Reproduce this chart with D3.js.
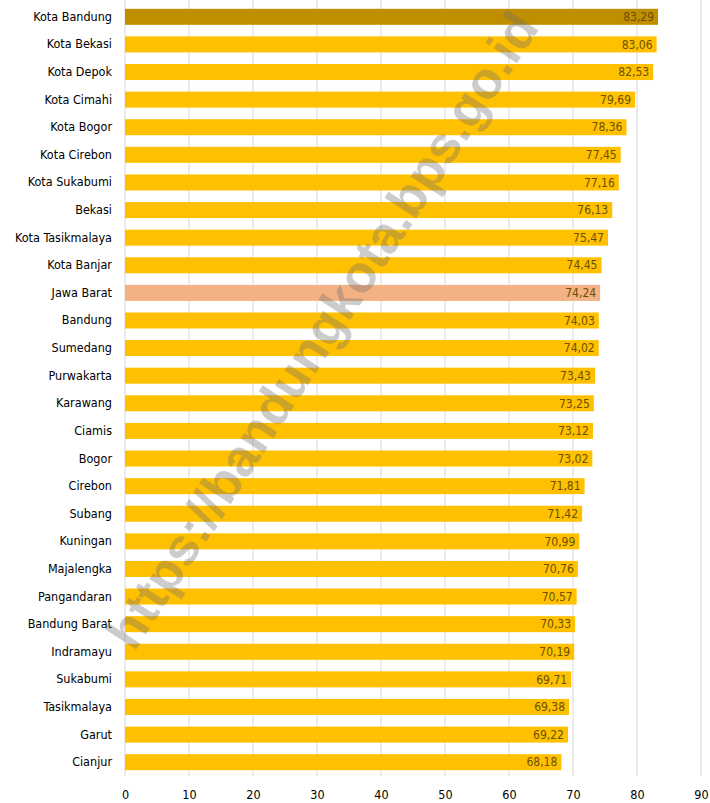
<!DOCTYPE html>
<html>
<head>
<meta charset="utf-8">
<script src="https://cdn.jsdelivr.net/npm/d3@7"></script>
<style>
    body { margin: 0; background: #fff; }
    svg text { font-family: 'DejaVu Sans Condensed', 'Liberation Sans Narrow', sans-serif; }
</style>
</head>
<body>
<script>
// Data
const regions = ['Kota Bandung', 'Kota Bekasi', 'Kota Depok', 'Kota Cimahi', 'Kota Bogor', 'Kota Cirebon',
    'Kota Sukabumi', 'Bekasi', 'Kota Tasikmalaya', 'Kota Banjar', 'Jawa Barat', 'Bandung', 'Sumedang',
    'Purwakarta', 'Karawang', 'Ciamis', 'Bogor', 'Cirebon', 'Subang', 'Kuningan', 'Majalengka',
    'Pangandaran', 'Bandung Barat', 'Indramayu', 'Sukabumi', 'Tasikmalaya', 'Garut', 'Cianjur'];
const values = [83.29, 83.06, 82.53, 79.69, 78.36, 77.45, 77.16, 76.13, 75.47, 74.45, 74.24, 74.03, 74.02,
    73.43, 73.25, 73.12, 73.02, 71.81, 71.42, 70.99, 70.76, 70.57, 70.33, 70.19, 69.71, 69.38, 69.22, 68.18];
const xTicks = [0, 10, 20, 30, 40, 50, 60, 70, 80, 90];

const width = 710, height = 803;

let svg = d3.select('body').append('svg').attr('width', width).attr('height', height);

// Scales
let x = d3.scaleLinear().domain([0, 90]).range([125, 701]);
let y = d3.scaleBand().domain(regions).range([3, 776]).paddingInner(0.42).paddingOuter(0.21);

// Gridlines
svg.append('g')
    .selectAll('line')
    .data(xTicks)
    .enter()
    .append('line')
    .attr('x1', d => x(d))
    .attr('x2', d => x(d))
    .attr('y1', 0)
    .attr('y2', 776)
    .attr('stroke', '#d9d9d9')
    .attr('stroke-width', 1);

// Bars
const barColor = d => (d === 'Kota Bandung' ? '#bf8f00' : d === 'Jawa Barat' ? '#f4b183' : '#ffc000');
let rows = regions.map((r, i) => ({ name: r, value: values[i] }));

svg.append('g')
    .selectAll('rect')
    .data(rows)
    .enter()
    .append('rect')
    .attr('x', x(0))
    .attr('y', d => y(d.name))
    .attr('width', d => x(d.value) - x(0))
    .attr('height', y.bandwidth())
    .attr('fill', d => barColor(d.name));

// Value labels
svg.append('g')
    .selectAll('text')
    .data(rows)
    .enter()
    .append('text')
    .attr('x', d => x(d.value) - 4)
    .attr('y', d => y(d.name) + y.bandwidth() / 2)
    .attr('dy', '0.35em')
    .attr('text-anchor', 'end')
    .attr('font-size', 12)
    .attr('fill', '#6b5000')
    .text(d => d.value.toFixed(2).replace('.', ','));

// Y axis (category labels)
let yAxis = svg.append('g').attr('transform', 'translate(112, 0)').call(d3.axisLeft(y).tickSize(0).tickPadding(0));
yAxis.select('.domain').remove();
yAxis.selectAll('text').attr('font-size', 12.5).attr('fill', '#000');

// X axis
let xAxis = svg.append('g').attr('transform', 'translate(0, 786)').call(d3.axisBottom(x).tickValues(xTicks).tickSize(0).tickPadding(4));
xAxis.select('.domain').remove();
xAxis.selectAll('text').attr('font-size', 12.5).attr('fill', '#000');

// Watermark
svg.append('text')
    .attr('transform', 'translate(322, 330) rotate(-57)')
    .attr('text-anchor', 'middle')
    .attr('dy', '0.35em')
    .attr('font-size', 52)
    .attr('font-weight', 'bold')
    .style('font-family', 'Liberation Sans, Arial, sans-serif')
    .attr('fill', 'rgba(110,110,110,0.35)')
    .text('https://bandungkota.bps.go.id');
</script>
</body>
</html>
